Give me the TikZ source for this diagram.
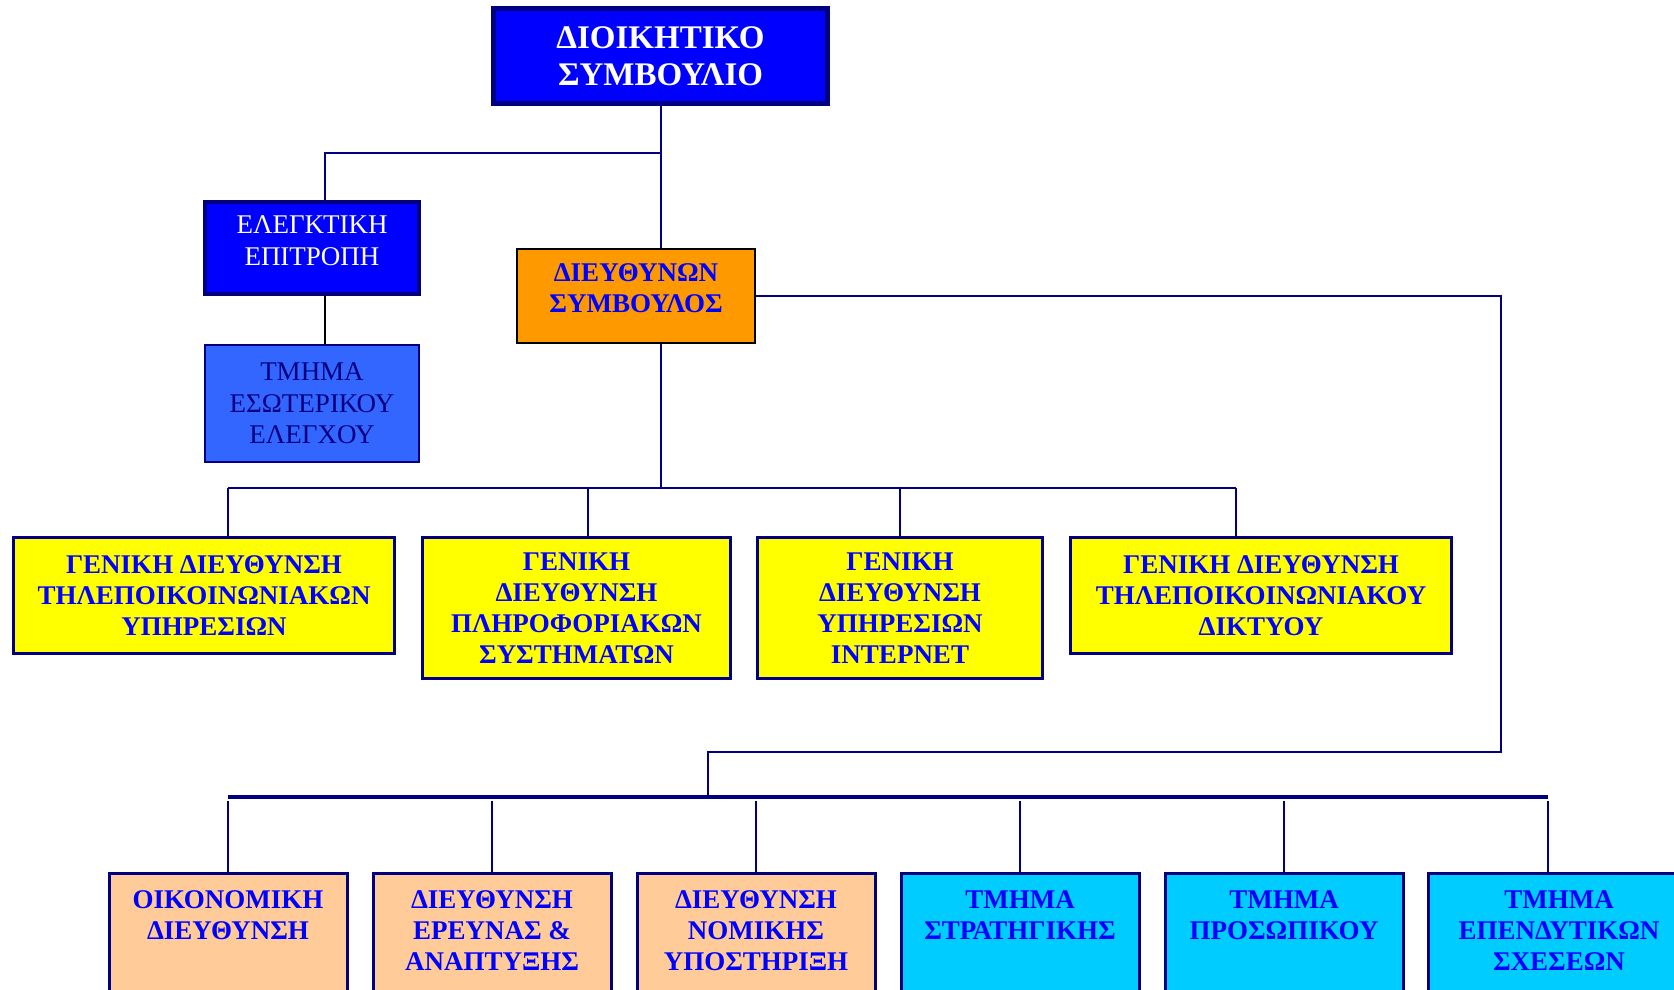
\documentclass[tikz,border=0pt]{standalone}
\usepackage{fontspec}
\setmainfont{Liberation Serif}
\usepackage{tikz}
\usetikzlibrary{positioning}
\usepackage{xcolor}

\definecolor{navy}{RGB}{0,0,128}
\definecolor{boardblue}{RGB}{0,0,255}
\definecolor{deptblue}{RGB}{51,102,255}
\definecolor{ceoorange}{RGB}{255,153,0}
\definecolor{genyellow}{RGB}{255,255,0}
\definecolor{peach}{RGB}{255,204,153}
\definecolor{skycyan}{RGB}{0,204,255}

\newcommand{\toplines}[1]{\parbox[t][100pt][t]{234pt}{\centering #1}}

\tikzset{
  box/.style={rectangle, draw=navy, line width=2.5pt, align=center, inner sep=2pt},
  headtext/.style={font=\fontsize{27}{31}\selectfont\bfseries, text=boardblue},
  lowbox/.style={box, line width=3pt, anchor=north, inner xsep=2pt, inner ysep=17pt, headtext},
  link/.style={draw=navy, line width=2pt},
  bus/.style={draw=navy, line width=3.5pt}
}

\begin{document}
\begin{tikzpicture}[x=1pt, y=-1pt]
    \useasboundingbox (0,0) rectangle (1674,990);
    \clip (0,0) rectangle (1674,990);

    % board and the units under it
    \node[box, line width=5pt, fill=boardblue, text=white, minimum width=334pt, minimum height=95pt, font=\fontsize{33}{37}\selectfont\bfseries] (board) at (660.5,56) {ΔΙΟΙΚΗΤΙΚΟ\\ΣΥΜΒΟΥΛΙΟ};

    \node[box, line width=4pt, fill=boardblue, text=white, minimum width=214pt, minimum height=92pt, text depth=15pt, font=\fontsize{27}{32}\selectfont] (audit) at (312,248) {ΕΛΕΓΚΤΙΚΗ\\ΕΠΙΤΡΟΠΗ};

    \node[box, line width=2pt, fill=deptblue, text=navy, minimum width=214pt, minimum height=117pt, font=\fontsize{27}{31.5}\selectfont] (internal) at (312,403.5) {ΤΜΗΜΑ\\ΕΣΩΤΕΡΙΚΟΥ\\ΕΛΕΓΧΟΥ};

    \node[box, draw=black, line width=2pt, fill=ceoorange, minimum width=238pt, minimum height=94pt, text depth=15pt, headtext] (ceo) at (636,296) {ΔΙΕΥΘΥΝΩΝ\\ΣΥΜΒΟΥΛΟΣ};

    % general directorates
    \node[box, fill=genyellow, minimum width=381pt, minimum height=116pt, headtext] (telserv) at (204,595.5) {ΓΕΝΙΚΗ ΔΙΕΥΘΥΝΣΗ\\ΤΗΛΕΠΟΙΚΟΙΝΩΝΙΑΚΩΝ\\ΥΠΗΡΕΣΙΩΝ};
    \node[box, fill=genyellow, minimum width=308pt, minimum height=141pt, headtext] (infosys) at (576.5,608) {ΓΕΝΙΚΗ\\ΔΙΕΥΘΥΝΣΗ\\ΠΛΗΡΟΦΟΡΙΑΚΩΝ\\ΣΥΣΤΗΜΑΤΩΝ};
    \node[box, fill=genyellow, minimum width=285pt, minimum height=141pt, headtext] (internet) at (900,608) {ΓΕΝΙΚΗ\\ΔΙΕΥΘΥΝΣΗ\\ΥΠΗΡΕΣΙΩΝ\\ΙΝΤΕΡΝΕΤ};
    \node[box, fill=genyellow, minimum width=381pt, minimum height=116pt, headtext] (network) at (1261,595.5) {ΓΕΝΙΚΗ ΔΙΕΥΘΥΝΣΗ\\ΤΗΛΕΠΟΙΚΟΙΝΩΝΙΑΚΟΥ\\ΔΙΚΤΥΟΥ};

    % directorates and departments at the bottom
    \node[lowbox, fill=peach] (finance) at (228,872) {\toplines{ΟΙΚΟΝΟΜΙΚΗ\\ΔΙΕΥΘΥΝΣΗ}};
    \node[lowbox, fill=peach] (research) at (492,872) {\toplines{ΔΙΕΥΘΥΝΣΗ\\ΕΡΕΥΝΑΣ \&\\ΑΝΑΠΤΥΞΗΣ}};
    \node[lowbox, fill=peach] (legal) at (756,872) {\toplines{ΔΙΕΥΘΥΝΣΗ\\ΝΟΜΙΚΗΣ\\ΥΠΟΣΤΗΡΙΞΗ}};
    \node[lowbox, fill=skycyan] (strategy) at (1020,872) {\toplines{ΤΜΗΜΑ\\ΣΤΡΑΤΗΓΙΚΗΣ}};
    \node[lowbox, fill=skycyan] (staff) at (1284,872) {\toplines{ΤΜΗΜΑ\\ΠΡΟΣΩΠΙΚΟΥ}};
    \node[lowbox, fill=skycyan, minimum width=262pt] (investors) at (1559,872) {\toplines{ΤΜΗΜΑ\\ΕΠΕΝΔΥΤΙΚΩΝ\\ΣΧΕΣΕΩΝ}};

    % connectors
    \coordinate (split) at (660.5,153);
    \coordinate (hub) at (660.5,488);
    \coordinate (hubL) at (228,488);
    \coordinate (hubR) at (1236,488);
    \coordinate (turn) at (1501,752);
    \coordinate (busjoin) at (708,797);
    \coordinate (busL) at (228,797);
    \coordinate (busR) at (1548,797);
    \coordinate (busfoot) at (228,801);

    \draw[link] (board) -- (board.south |- ceo.north);
    \draw[link] (split) -| ([xshift=13pt]audit.north);
    \draw[black, line width=2pt] ([xshift=13pt]audit.south) -- ([xshift=13pt]internal.north);

    \draw[link] (ceo.south -| hub) -- (hub);
    \draw[link] (hubL) -- (hubR);
    \draw[link] (hubL) -- (hubL |- telserv.north);
    \draw[link] ([xshift=11.5pt]infosys.north) -- ([xshift=11.5pt]infosys.north |- hub);
    \draw[link] (internet.north) -- (internet.north |- hub);
    \draw[link] (hubR) -- (hubR |- network.north);

    \draw[link] (ceo.east) -| (turn) -| (busjoin);
    \draw[bus] (busL) -- (busR);
    \draw[link] (busfoot) -- (finance.north);
    \draw[link] (busfoot -| research.north) -- (research.north);
    \draw[link] (busfoot -| legal.north) -- (legal.north);
    \draw[link] (busfoot -| strategy.north) -- (strategy.north);
    \draw[link] (busfoot -| staff.north) -- (staff.north);
    \draw[link] (busfoot -| busR) -- (busR |- investors.north);
\end{tikzpicture}
\end{document}
